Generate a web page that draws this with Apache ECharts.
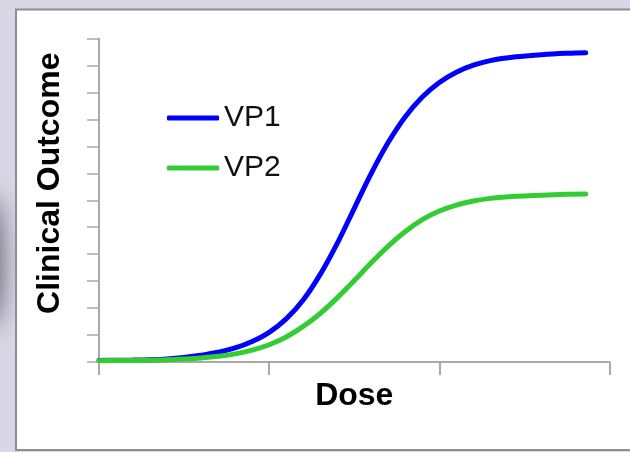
<!DOCTYPE html>
<html>
<head>
<meta charset="utf-8">
<script src="https://cdn.jsdelivr.net/npm/echarts@6/dist/echarts.min.js"></script>
<style>
html,body{margin:0;padding:0;background:#d9d6e5;}
#chart{width:630px;height:452px;}
</style>
</head>
<body>
<div id="chart"></div>
<script>
// Dose (x, axis units 0..3) and Clinical Outcome (y, axis units 0..12)
const seriesNames = ['VP1', 'VP2'];
const doseValues = [0, 0.1, 0.2, 0.3, 0.4, 0.5, 0.6, 0.7, 0.8, 0.9, 1.0, 1.1, 1.2, 1.3, 1.4, 1.5, 1.6, 1.7, 1.8, 1.9, 2.0, 2.1, 2.2, 2.3, 2.45, 2.6, 2.75, 2.86];
const vp1Outcome = [0.06, 0.062, 0.07, 0.085, 0.115, 0.17, 0.25, 0.36, 0.52, 0.76, 1.1, 1.6, 2.3, 3.25, 4.4, 5.7, 7.0, 8.15, 9.1, 9.83, 10.37, 10.75, 11.01, 11.18, 11.32, 11.4, 11.45, 11.47];
const vp2Outcome = [0.05, 0.052, 0.057, 0.065, 0.08, 0.11, 0.15, 0.21, 0.3, 0.44, 0.64, 0.93, 1.32, 1.8, 2.38, 3.02, 3.68, 4.3, 4.84, 5.28, 5.6, 5.82, 5.97, 6.07, 6.15, 6.19, 6.22, 6.23];
const xTicks = [0, 1, 2, 3];
const yMax = 12;

const zip = (xs, ys) => xs.map((x, i) => [x, ys[i]]);

const chart = echarts.init(document.getElementById('chart'));
const axisGray = '#a9a9a9';
chart.setOption({
  animation: false,
  backgroundColor: '#d9d6e5',
  graphic: [
    { type: 'ellipse', z: -10, shape: { cx: -12, cy: 262, rx: 12, ry: 66 },
      style: { fill: 'rgba(60,60,72,0.9)', shadowBlur: 26, shadowColor: 'rgba(60,60,72,1)' } },
    { type: 'rect', z: -5, shape: { x: 16, y: 9.5, width: 640, height: 440.5 },
      style: { fill: '#ffffff', stroke: '#8e8e8e', lineWidth: 2 } }
  ],
  grid: { left: 99, right: 20.5, top: 38.5, bottom: 90, containLabel: false },
  legend: {
    orient: 'vertical',
    left: 167,
    top: 100,
    padding: 0,
    itemWidth: 52,
    itemHeight: 5,
    itemGap: 14,
    icon: 'roundRect',
    textStyle: { fontFamily: 'Liberation Sans', fontSize: 30, color: '#111', lineHeight: 36 },
    data: seriesNames
  },
  xAxis: {
    type: 'value', min: xTicks[0], max: xTicks[xTicks.length - 1], interval: 1,
    name: 'Dose', nameLocation: 'middle', nameGap: 18,
    nameTextStyle: { fontFamily: 'Liberation Sans', fontWeight: 'bold', fontSize: 32, color: '#000' },
    axisLine: { lineStyle: { color: axisGray, width: 2 } },
    axisTick: { show: true, length: 13, lineStyle: { color: axisGray, width: 2 } },
    axisLabel: { show: false },
    splitLine: { show: false }
  },
  yAxis: {
    type: 'value', min: 0, max: yMax, interval: 1,
    name: 'Clinical Outcome', nameLocation: 'middle', nameGap: 33,
    nameTextStyle: { fontFamily: 'Liberation Sans', fontWeight: 'bold', fontSize: 32, color: '#000', padding: [0, 0, 0, 34] },
    axisLine: { show: true, lineStyle: { color: axisGray, width: 2 } },
    axisTick: { show: true, length: 12, lineStyle: { color: axisGray, width: 1.5 } },
    axisLabel: { show: false },
    splitLine: { show: false }
  },
  series: [
    { name: seriesNames[0], type: 'line', data: zip(doseValues, vp1Outcome), smooth: 0.4, symbol: 'none',
      lineStyle: { color: '#0000ff', width: 5, cap: 'round' }, itemStyle: { color: '#0000ff' }, z: 3 },
    { name: seriesNames[1], type: 'line', data: zip(doseValues, vp2Outcome), smooth: 0.4, symbol: 'none',
      lineStyle: { color: '#33cc33', width: 5, cap: 'round' }, itemStyle: { color: '#33cc33' }, z: 4 }
  ]
});
</script>
</body>
</html>
